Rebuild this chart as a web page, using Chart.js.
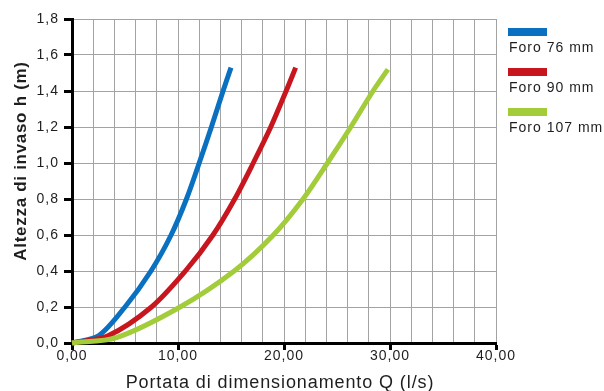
<!DOCTYPE html>
<html lang="it">
<head>
<meta charset="UTF-8">
<title>Altezza di invaso - Portata</title>
<script src="https://cdn.jsdelivr.net/npm/chart.js"></script>
<style>
    html, body { margin: 0; padding: 0; background: #fff; }
    #wrap { width: 604px; height: 391px; position: relative; }
</style>
</head>
<body>
<div id="wrap"><canvas id="chart"></canvas></div>
<script>
// series: Q (l/s) and h (m)
var seriesNames = ['Foro 76 mm', 'Foro 90 mm', 'Foro 107 mm'];
var seriesColors = ['#0a70c0', '#c8161e', '#a2cc3a'];

var q76 = [0, 2.5, 5.0, 7.45, 9.35, 10.8, 12.0, 13.15, 14.25, 15.0];
var h76 = [0, 0.04, 0.2, 0.4, 0.6, 0.8, 1.0, 1.2, 1.4, 1.53];

var q90 = [0, 3.4, 7.5, 10.7, 13.3, 15.35, 17.1, 18.75, 20.2, 21.1];
var h90 = [0, 0.04, 0.2, 0.4, 0.6, 0.8, 1.0, 1.2, 1.4, 1.53];

var q107 = [0, 4.2, 10.2, 15.3, 19.0, 21.8, 24.1, 26.3, 28.4, 29.8];
var h107 = [0, 0.03, 0.2, 0.4, 0.6, 0.8, 1.0, 1.2, 1.4, 1.52];

var xTitle = 'Portata di dimensionamento Q (l/s)';
var yTitle = 'Altezza di invaso h (m)';

function pts(qs, hs) {
    return qs.map(function (q, i) { return { x: q, y: hs[i] }; });
}

var textColor = '#1e1e1e';
var gridColor = '#a3a3a3';

// spacing of letters like the original typeface
var spacing = {
    id: 'spacing',
    beforeLayout: function (chart) { chart.ctx.letterSpacing = '1px'; },
    beforeDraw: function (chart) { chart.ctx.letterSpacing = '1px'; }
};

// axis titles and legend drawn at fixed places
var extras = {
    id: 'extras',
    afterDraw: function (chart) {
        var ctx = chart.ctx;
        ctx.save();
        ctx.fillStyle = textColor;

        ctx.letterSpacing = '0.7px';
        ctx.font = 'bold 17px "Liberation Sans", Arial, sans-serif';
        ctx.textAlign = 'center';
        ctx.textBaseline = 'middle';
        ctx.translate(21, 161);
        ctx.rotate(-Math.PI / 2);
        ctx.fillText(yTitle, 0, 0);
        ctx.setTransform(1, 0, 0, 1, 0, 0);

        ctx.letterSpacing = '0.9px';
        ctx.font = '18px "Liberation Sans", Arial, sans-serif';
        ctx.textBaseline = 'alphabetic';
        ctx.fillText(xTitle, 280, 388);

        ctx.letterSpacing = '1px';
        ctx.font = '14px "Liberation Sans", Arial, sans-serif';
        ctx.textAlign = 'left';
        chart.data.datasets.forEach(function (ds, i) {
            var y = 28 + i * 40;
            ctx.fillStyle = ds.borderColor;
            ctx.fillRect(508, y, 39, 8);
            ctx.fillStyle = textColor;
            ctx.fillText(ds.label, 509, y + 24);
        });
        ctx.restore();
    }
};

new Chart(document.getElementById('chart'), {
    type: 'line',
    data: {
        datasets: [
            { label: seriesNames[0], data: pts(q76, h76), borderColor: seriesColors[0], order: 3 },
            { label: seriesNames[1], data: pts(q90, h90), borderColor: seriesColors[1], order: 2 },
            { label: seriesNames[2], data: pts(q107, h107), borderColor: seriesColors[2], order: 1 }
        ]
    },
    options: {
        responsive: true,
        maintainAspectRatio: false,
        animation: false,
        parsing: false,
        layout: { padding: { top: 19, right: 108, left: 0, bottom: 0 } },
        elements: {
            line: { borderWidth: 5, tension: 0.3, fill: false },
            point: { radius: 0 }
        },
        datasets: { line: { clip: false } },
        plugins: {
            legend: { display: false },
            tooltip: { enabled: false }
        },
        scales: {
            x: {
                type: 'linear',
                min: 0,
                max: 40,
                afterFit: function (s) { s.height = 48; },
                border: { color: '#000', width: 3 },
                grid: {
                    color: gridColor,
                    lineWidth: 1,
                    tickLength: 7,
                    tickColor: function (c) { return c.tick && c.tick.value % 10 === 0 ? '#000' : 'rgba(0,0,0,0)'; },
                    tickWidth: function (c) { return c.tick && c.tick.value % 10 === 0 ? 3 : 1; }
                },
                ticks: {
                    stepSize: 2,
                    autoSkip: false,
                    maxRotation: 0,
                    padding: -2,
                    color: textColor,
                    font: { family: '"Liberation Sans", Arial, sans-serif', size: 14 },
                    callback: function (v) { return v % 10 === 0 ? v.toFixed(2).replace('.', ',') : ''; }
                }
            },
            y: {
                min: 0,
                max: 1.8,
                afterFit: function (s) { s.width = 72; },
                border: { color: '#000', width: 3 },
                grid: {
                    color: gridColor,
                    lineWidth: 1,
                    tickLength: 8,
                    tickColor: '#000',
                    tickWidth: 3
                },
                ticks: {
                    stepSize: 0.2,
                    padding: 5,
                    color: textColor,
                    font: { family: '"Liberation Sans", Arial, sans-serif', size: 14 },
                    callback: function (v) { return v.toFixed(1).replace('.', ','); }
                }
            }
        }
    },
    plugins: [spacing, extras]
});
</script>
</body>
</html>
